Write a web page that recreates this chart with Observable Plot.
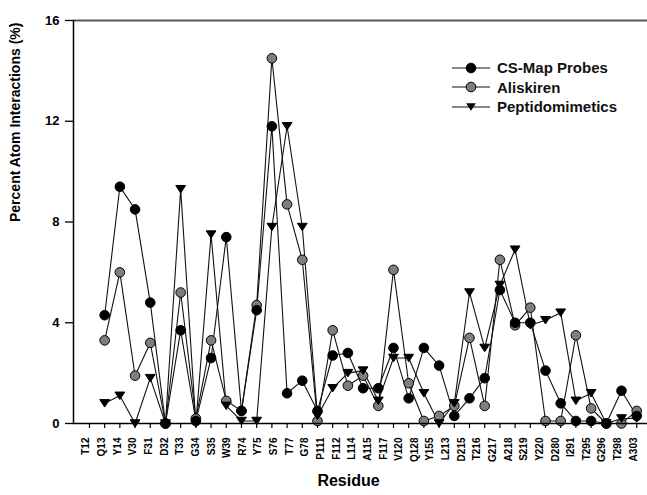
<!DOCTYPE html>
<html>
<head>
<meta charset="utf-8">
<script src="https://cdn.jsdelivr.net/npm/d3@7"></script>
<script src="https://cdn.jsdelivr.net/npm/@observablehq/plot@0.6"></script>
<style>
  body { margin: 0; background: #fff; }
  #wrap { position: relative; width: 647px; height: 495px; font-family: "Liberation Sans", Arial, sans-serif; }
  #legend { position: absolute; left: 452px; top: 58px; font-weight: bold; font-size: 15px; color: #111; }
  #legend .row { display: flex; align-items: center; height: 19.5px; }
  #legend svg { margin-right: 7px; }
</style>
</head>
<body>
<div id="wrap"><div id="legend"></div></div>
<script>
// ---- data ----
const residues = ["T12","Q13","Y14","V30","F31","D32","T33","G34","S35","W39","R74","Y75","S76","T77","G78",
  "P111","F112","L114","A115","F117","V120","Q128","Y155","L213","D215","T216","G217","A218","S219","Y220",
  "D280","I291","T295","G296","T298","A303"];
const csMap     = [4.3, 9.4, 8.5, 4.8, 0.0, 3.7, 0.1, 2.6, 7.4, 0.5, 4.5, 11.8, 1.2, 1.7, 0.5, 2.7, 2.8, 1.4, 1.4, 3.0,
                   1.0, 3.0, 2.3, 0.3, 1.0, 1.8, 5.3, 4.0, 4.0, 2.1, 0.8, 0.1, 0.1, 0.0, 1.3, 0.3];
const aliskiren = [3.3, 6.0, 1.9, 3.2, 0.0, 5.2, 0.2, 3.3, 0.9, 0.5, 4.7, 14.5, 8.7, 6.5, 0.1, 3.7, 1.5, 1.9, 0.7, 6.1,
                   1.6, 0.1, 0.3, 0.7, 3.4, 0.7, 6.5, 3.9, 4.6, 0.1, 0.1, 3.5, 0.6, 0.0, 0.0, 0.5];
const peptido   = [0.8, 1.1, 0.0, 1.8, 0.0, 9.3, 0.0, 7.5, 0.7, 0.1, 0.1, 7.8, 11.8, 7.8, 0.3, 1.4, 2.0, 2.1, 0.9, 2.6,
                   2.6, 1.2, 0.0, 0.8, 5.2, 3.0, 5.5, 6.9, 3.9, 4.1, 4.4, 0.9, 1.2, 0.0, 0.2, 0.2];
const seriesNames = ["CS-Map Probes", "Aliskiren", "Peptidomimetics"];
const yTicks = [0, 4, 8, 12, 16];
const yLabel = "Percent Atom Interactions (%)";
const xLabel = "Residue";

// ---- layout / style ----
const xDomain = [-1.05, 36.71];
const nSlots = residues.length;          // 36 labels
const tickPositions = d3.range(0, nSlots + 1); // 37 ticks
const triDown = {
  draw(ctx, size) {
    const r = Math.sqrt(size / Math.PI);
    ctx.moveTo(-r * 1.02, -r * 0.78);
    ctx.lineTo(r * 1.02, -r * 0.78);
    ctx.lineTo(0, r * 0.78);
    ctx.closePath();
  }
};
const styles = {
  "CS-Map Probes":   {fill: "#000", symbol: "circle"},
  "Aliskiren":       {fill: "#7e7e7e", symbol: "circle"},
  "Peptidomimetics": {fill: "#000", symbol: triDown}
};
const valuesBy = {"CS-Map Probes": csMap, "Aliskiren": aliskiren, "Peptidomimetics": peptido};

const rows = seriesNames.map(s => residues.map((r, i) => ({series: s, residue: r, pos: i + 1, value: valuesBy[s][i]})));

const seriesMarks = [];
// draw order: Aliskiren, Peptidomimetics, CS-Map on top
[1, 2, 0].forEach(k => {
  seriesMarks.push(Plot.line(rows[k], {x: "pos", y: "value", stroke: "#111", strokeWidth: 1.1}));
});
[1, 2, 0].forEach(k => {
  const s = seriesNames[k];
  seriesMarks.push(Plot.dot(rows[k], {x: "pos", y: "value", r: 4.8, fill: styles[s].fill, stroke: "#000",
    strokeWidth: 1, symbol: () => styles[s].symbol}));
});

const chart = Plot.plot({
  width: 647, height: 495,
  marginLeft: 73, marginRight: 0, marginTop: 20, marginBottom: 72,
  x: {type: "linear", domain: xDomain, axis: null},
  y: {domain: [0, 16], axis: null},
  symbol: {type: "identity"},
  style: {fontFamily: "Liberation Sans, Arial, sans-serif", background: "white", color: "#000"},
  marks: [
    Plot.ruleY([yTicks[yTicks.length - 1]], {stroke: "#555", strokeWidth: 2}),
    Plot.ruleX([xDomain[0]], {stroke: "#000", strokeWidth: 1.5}),
    Plot.axisY({ticks: yTicks, tickSize: 8, tickPadding: 6, fontSize: 13, fontWeight: "bold", label: null,
      tickFormat: d => String(d), strokeWidth: 1.3}),
    Plot.axisX({ticks: tickPositions, tickSize: 5, tickFormat: () => "", label: null, strokeWidth: 1.2}),
    Plot.text(residues, {x: (d, i) => i * nSlots / (nSlots - 1), frameAnchor: "bottom", dy: 14, rotate: -90,
      textAnchor: "end", fontSize: 10, fontWeight: "bold", text: d => d}),
    Plot.text([yLabel], {frameAnchor: "left", dx: -58, rotate: -90, fontSize: 14, fontWeight: "bold", text: d => d}),
    Plot.text([xLabel], {frameAnchor: "bottom", dx: -12, dy: 62, fontSize: 16, fontWeight: "bold", text: d => d}),
    ...seriesMarks,
    Plot.ruleY([0], {stroke: "#000", strokeWidth: 1.5})
  ]
});
document.getElementById("wrap").prepend(chart);

// ---- legend ----
const legend = d3.select("#legend");
seriesNames.forEach(s => {
  const row = legend.append("div").attr("class", "row");
  const svg = row.append("svg").attr("width", 38).attr("height", 14);
  svg.append("line").attr("x1", 0).attr("x2", 38).attr("y1", 7).attr("y2", 7).attr("stroke", "#111").attr("stroke-width", 1.2);
  if (styles[s].symbol === "circle") {
    svg.append("circle").attr("cx", 19).attr("cy", 7).attr("r", 4.8).attr("fill", styles[s].fill).attr("stroke", "#000");
  } else {
    svg.append("path").attr("transform", "translate(19,7)")
      .attr("d", d3.symbol().type(triDown).size(4.8 * 4.8 * Math.PI)()).attr("fill", "#000");
  }
  row.append("span").text(s);
});
</script>
</body>
</html>
